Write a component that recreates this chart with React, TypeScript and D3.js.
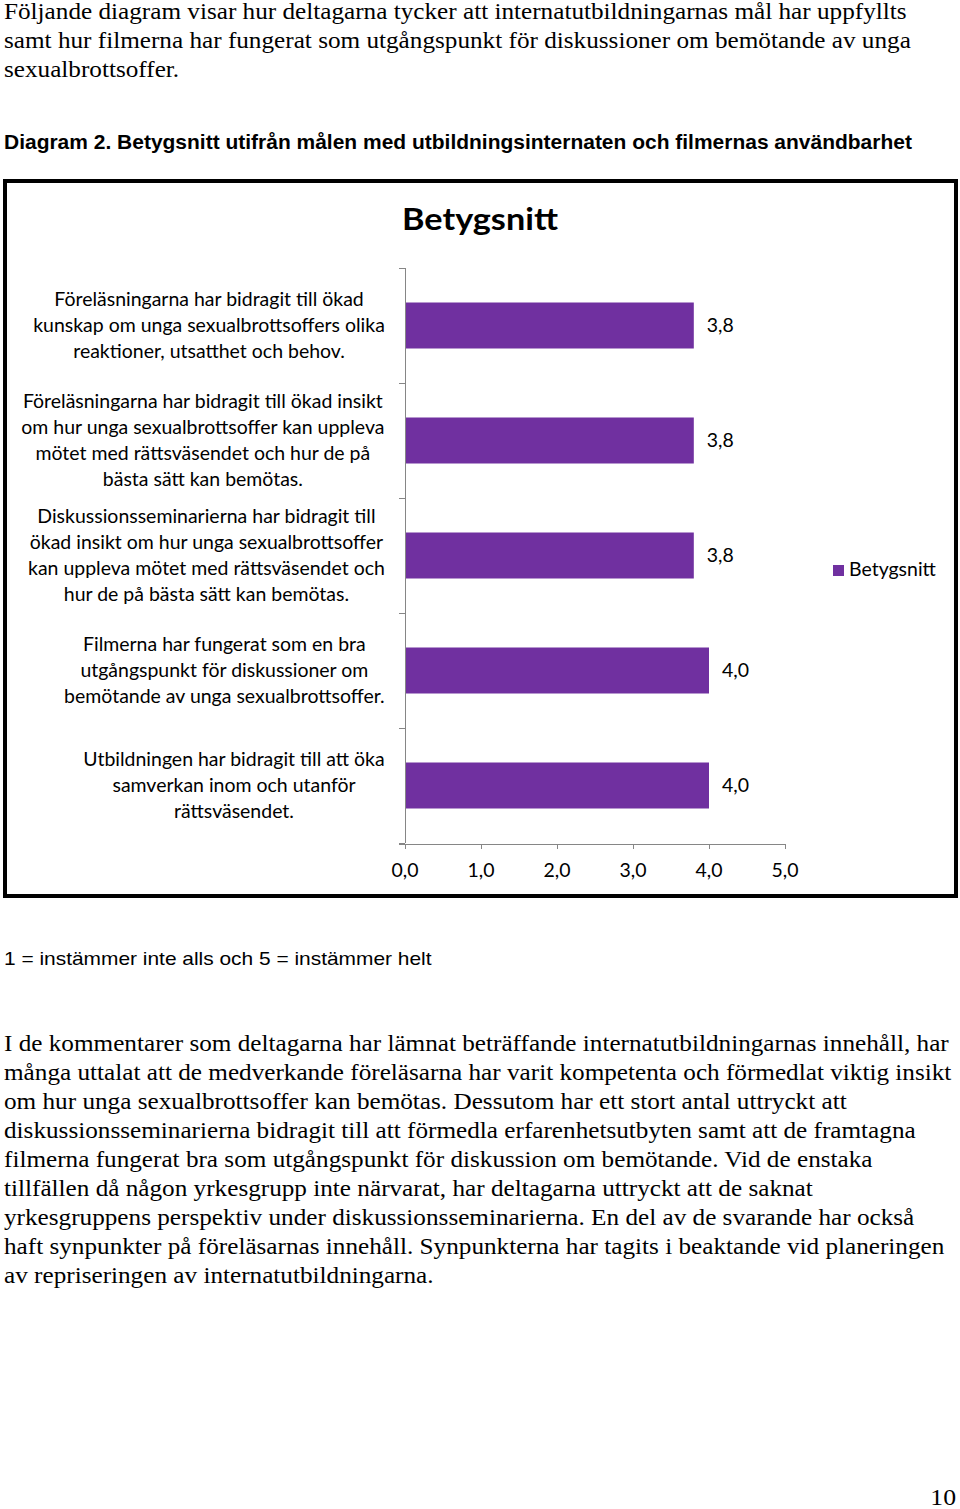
import React, { useMemo } from 'react';
import * as d3 from 'd3';

// ---------- data ----------
const introLines = [
  'Följande diagram visar hur deltagarna tycker att internatutbildningarnas mål har uppfyllts',
  'samt hur filmerna har fungerat som utgångspunkt för diskussioner om bemötande av unga',
  'sexualbrottsoffer.',
];
const heading =
  'Diagram 2. Betygsnitt utifrån målen med utbildningsinternaten och filmernas användbarhet';
const chartTitle = 'Betygsnitt';
const seriesName = 'Betygsnitt';
const categoryLines = [
  ['Föreläsningarna har bidragit till ökad', 'kunskap om unga sexualbrottsoffers olika', 'reaktioner, utsatthet och behov.'],
  ['Föreläsningarna har bidragit till ökad insikt', 'om hur unga sexualbrottsoffer kan uppleva', 'mötet med rättsväsendet och hur de på', 'bästa sätt kan bemötas.'],
  ['Diskussionsseminarierna har bidragit till', 'ökad insikt om hur unga sexualbrottsoffer', 'kan uppleva mötet med rättsväsendet och', 'hur de på bästa sätt kan bemötas.'],
  ['Filmerna har fungerat som en bra', 'utgångspunkt för diskussioner om', 'bemötande av unga sexualbrottsoffer.'],
  ['Utbildningen har bidragit till att öka', 'samverkan inom och utanför', 'rättsväsendet.'],
];
const values = [3.8, 3.8, 3.8, 4.0, 4.0];
const xTicks = [0, 1, 2, 3, 4, 5];
const scaleNote = '1 = instämmer inte alls och 5 = instämmer helt';
const bodyLines = [
  'I de kommentarer som deltagarna har lämnat beträffande internatutbildningarnas innehåll, har',
  'många uttalat att de medverkande föreläsarna har varit kompetenta och förmedlat viktig insikt',
  'om hur unga sexualbrottsoffer kan bemötas. Dessutom har ett stort antal uttryckt att',
  'diskussionsseminarierna bidragit till att förmedla erfarenhetsutbyten samt att de framtagna',
  'filmerna fungerat bra som utgångspunkt för diskussion om bemötande. Vid de enstaka',
  'tillfällen då någon yrkesgrupp inte närvarat, har deltagarna uttryckt att de saknat',
  'yrkesgruppens perspektiv under diskussionsseminarierna. En del av de svarande har också',
  'haft synpunkter på föreläsarnas innehåll. Synpunkterna har tagits i beaktande vid planeringen',
  'av repriseringen av internatutbildningarna.',
];
const pageNumber = '10';

// ---------- styles ----------
const W = 960;
const H = 1509;
const SERIF = '"Liberation Serif", "Times New Roman", serif';
const SANS = '"Liberation Sans", Arial, sans-serif';
const CAL = 'Lato, "Open Sans", sans-serif';
const BAR_COLOR = '#7030A0';
const AXIS_COLOR = '#868686';

const fmt = (v: number) => v.toFixed(1).replace('.', ',');

let ctx: CanvasRenderingContext2D | null = null;
function measure(text: string, font: string) {
  if (!ctx) ctx = document.createElement('canvas').getContext('2d');
  if (!ctx) return text.length * 10;
  ctx.font = font;
  return ctx.measureText(text).width;
}

function ST({ x, y, sx, children, anchor = 'start', ...rest }: any) {
  return (
    <text transform={`translate(${x},${y}) scale(${sx},1)`} textAnchor={anchor} {...rest}>
      {children}
    </text>
  );
}

export default function App() {
  const m = useMemo(() => {
    const serifSize = 23.5;
    const sxSerif = 945 / measure(bodyLines[0], `${serifSize}px ${SERIF}`);
    const headSize = 19.5;
    const sxHead = 908 / measure(heading, `bold ${headSize}px ${SANS}`);
    const capSize = 17.5;
    const sxCap = 428 / measure(scaleNote, `${capSize}px ${SANS}`);
    const labSize = 18.5;
    const labFont = `${labSize}px ${CAL}`;
    const sxLab = 352 / measure(categoryLines[0][1], labFont);
    const titleSize = 30;
    const sxTitle = 156 / measure(chartTitle, `bold ${titleSize}px ${CAL}`);
    const blockWidths = categoryLines.map((ls) =>
      Math.max(...ls.map((l) => measure(l, labFont) * sxLab))
    );
    return { serifSize, sxSerif, headSize, sxHead, capSize, sxCap, labSize, sxLab, titleSize, sxTitle, blockWidths };
  }, []);

  // chart scales
  const x = d3.scaleLinear().domain([0, 5]).range([405, 785]);
  const y = d3
    .scaleBand<number>()
    .domain(d3.range(categoryLines.length))
    .range([268, 843])
    .paddingInner(0.6)
    .paddingOuter(0.3);
  const step = y.step();
  const boundaries = d3.range(categoryLines.length + 1).map((i) => 268 + i * step);
  const labelRight = 385;
  const lineH = 25.7;

  return (
    <svg
      width={W}
      height={H}
      style={{ position: 'absolute', left: 0, top: 0, background: '#fff' }}
      xmlns="http://www.w3.org/2000/svg"
    >
      <rect x={0} y={0} width={W} height={H} fill="#fff" />

      {/* intro paragraph */}
      <g fontFamily={SERIF} fontSize={m.serifSize} fill="#000">
        {introLines.map((l, i) => (
          <ST key={i} x={4} y={19 + i * 29} sx={m.sxSerif}>
            {l}
          </ST>
        ))}
      </g>

      {/* heading */}
      <ST x={4} y={149} sx={m.sxHead} fontFamily={SANS} fontWeight="bold" fontSize={m.headSize} fill="#000">
        {heading}
      </ST>

      {/* chart frame */}
      <rect x={5} y={181} width={951} height={715} fill="#fff" stroke="#000" strokeWidth={4} />

      {/* chart title */}
      <ST x={480} y={230} sx={m.sxTitle} anchor="middle" fontFamily={CAL} fontWeight="bold" fontSize={m.titleSize} fill="#000">
        {chartTitle}
      </ST>

      {/* bars */}
      <g>
        {values.map((v, i) => (
          <rect key={i} x={x(0)} y={y(i)} width={x(v) - x(0)} height={y.bandwidth()} fill={BAR_COLOR} />
        ))}
      </g>

      {/* value labels */}
      <g fontFamily={CAL} fontSize={m.labSize} fill="#000">
        {values.map((v, i) => (
          <ST key={i} x={x(v) + 13} y={(y(i) as number) + y.bandwidth() / 2 + 6.5} sx={m.sxLab}>
            {fmt(v)}
          </ST>
        ))}
      </g>

      {/* axes */}
      <g stroke={AXIS_COLOR} strokeWidth={1} shapeRendering="crispEdges">
        <line x1={x(0)} x2={x(0)} y1={boundaries[0]} y2={boundaries[boundaries.length - 1]} />
        {boundaries.map((b, i) => (
          <line key={i} x1={x(0) - 6} x2={x(0)} y1={b} y2={b} />
        ))}
        <line x1={x(0) - 6} x2={x(5)} y1={844} y2={844} />
        {xTicks.map((t) => (
          <line key={t} x1={x(t)} x2={x(t)} y1={844} y2={849} />
        ))}
      </g>

      {/* x tick labels */}
      <g fontFamily={CAL} fontSize={m.labSize} fill="#000">
        {xTicks.map((t) => (
          <ST key={t} x={x(t)} y={877} sx={m.sxLab} anchor="middle">
            {fmt(t)}
          </ST>
        ))}
      </g>

      {/* category labels */}
      <g fontFamily={CAL} fontSize={m.labSize} fill="#000">
        {categoryLines.map((ls, i) => {
          const cy = (y(i) as number) + y.bandwidth() / 2;
          const cx = labelRight - m.blockWidths[i] / 2;
          return ls.map((l, j) => (
            <ST
              key={`${i}-${j}`}
              x={cx}
              y={cy + (j - (ls.length - 1) / 2) * lineH + 6.5}
              sx={m.sxLab}
              anchor="middle"
            >
              {l}
            </ST>
          ));
        })}
      </g>

      {/* legend */}
      <rect x={833} y={565} width={11} height={11} fill={BAR_COLOR} />
      <ST x={849} y={576} sx={m.sxLab} fontFamily={CAL} fontSize={m.labSize} fill="#000">
        {seriesName}
      </ST>

      {/* scale note */}
      <ST x={4} y={965} sx={m.sxCap} fontFamily={SANS} fontSize={m.capSize} fill="#000">
        {scaleNote}
      </ST>

      {/* body paragraph */}
      <g fontFamily={SERIF} fontSize={m.serifSize} fill="#000">
        {bodyLines.map((l, i) => (
          <ST key={i} x={4} y={1051 + i * 29} sx={m.sxSerif}>
            {l}
          </ST>
        ))}
      </g>

      {/* page number */}
      <ST x={956} y={1505} sx={m.sxSerif} anchor="end" fontFamily={SERIF} fontSize={24} fill="#000">
        {pageNumber}
      </ST>
    </svg>
  );
}
